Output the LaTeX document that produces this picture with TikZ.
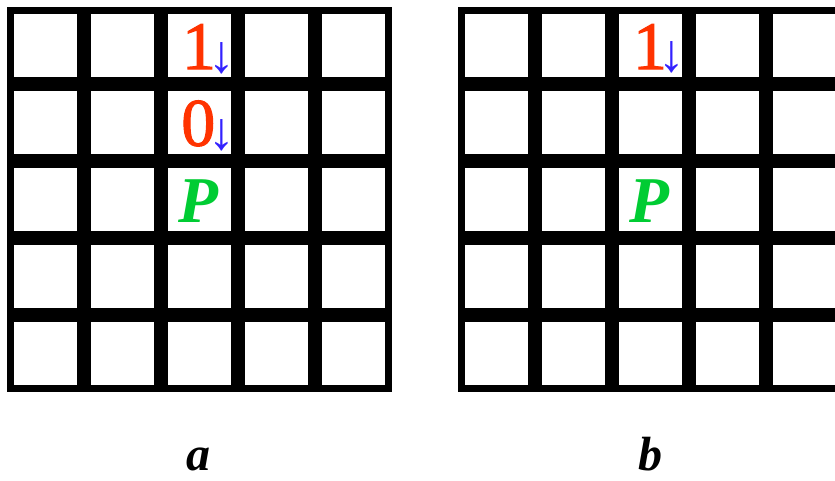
\documentclass[tikz,border=0pt]{standalone}
\usepackage{fontspec}
\setmainfont{Liberation Serif}
\newfontfamily\digitfont[FakeBold=1.6]{Liberation Serif}
\definecolor{digred}{RGB}{255,51,0}
\definecolor{arrblue}{RGB}{51,34,255}
\definecolor{pgreen}{RGB}{0,204,51}
\tikzset{
  digit/.style={text=digred, inner sep=0pt, anchor=base, font=\digitfont\fontsize{51}{60}\selectfont},
  downarr/.style={text=arrblue, inner sep=0pt, anchor=base, font=\fontsize{40}{48}\selectfont},
  pletter/.style={text=pgreen, inner sep=0pt, anchor=base, font=\fontsize{49}{58}\selectfont\bfseries\itshape},
  caption/.style={text=black, inner sep=0pt, anchor=base, font=\fontsize{36}{43}\selectfont\bfseries\itshape}
}
\begin{document}
\begin{tikzpicture}[x=0.75pt,y=-0.75pt]
\useasboundingbox (0,0) rectangle (835,480);
\clip (0,0) rectangle (835,480);
\fill[white] (0,0) rectangle (835,480);
\foreach \ox in {7,457.7} {
  \fill[black] (\ox,6.5) rectangle ++(385,385.5);
  \foreach \i in {0,...,4} {
    \foreach \j in {0,...,4} {
      \fill[white] ({\ox+77*\i+7},{6.5+77.1*\j+7}) rectangle ++(63,63.1);
    }
  }
}
% grid a
\node[digit] (aone) at (199,69) {1};
\node[downarr] (aarrone) at (222,72.3) {↓};
\node[digit] (azero) at (198.3,145.7) {0};
\node[downarr] (aarrzero) at (222,149) {↓};
\node[pletter] (ap) at (198,222) {P};
\node[caption] (capa) at (198,470) {a};
% grid b
\node[digit] (bone) at (650,69) {1};
\node[downarr] (barrone) at (672,71.5) {↓};
\node[pletter] (bp) at (649,222) {P};
\node[caption] (capb) at (650,470) {b};
\end{tikzpicture}
\end{document}
